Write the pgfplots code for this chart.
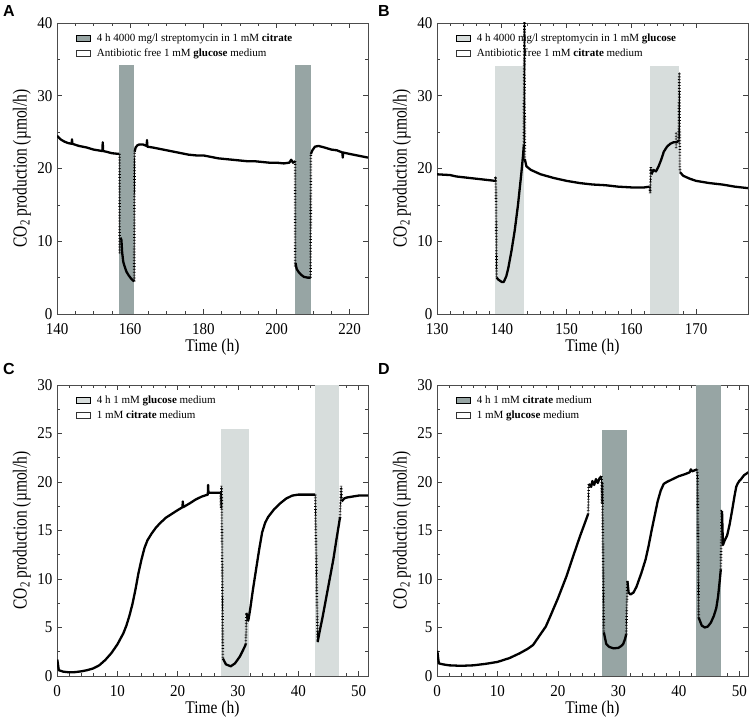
\documentclass[border=0pt]{standalone}
\usepackage{fontspec}
\setmainfont{Liberation Serif}
\setsansfont{Liberation Sans}
\usepackage{pgfplots}
\usepackage{pgfplotstable}
\pgfplotsset{compat=1.18}
\definecolor{darkbar}{HTML}{97A5A4}
\definecolor{lightbar}{HTML}{D7DDDC}

% panel A
\pgfplotstableread{
x y
140 24.5
141 24.0
142 23.7
143 23.5
144 23.4
144.1 24.0
144.2 23.4
146 23.1
148 22.9
150 22.6
152.4 22.4
152.5 23.6
152.6 22.4
153.5 22.3
155 22.1
157 22.0
nan nan
157.3 10.5
157.6 10.2
157.8 8.5
158.1 7.2
158.5 6.5
159 5.8
159.6 5.3
160.2 4.9
160.8 4.6
161.1 4.5
nan nan
161.2 22.3
161.5 22.9
162 23.2
162.5 23.3
163.5 23.3
164.5 23.1
164.6 23.9
164.7 23.0
166 22.9
168 22.7
170 22.5
172 22.3
174 22.1
176 21.9
178 21.8
180 21.8
182 21.6
184 21.4
186 21.3
188 21.2
190 21.1
192 21.0
194 21.0
196 20.9
198 20.8
200 20.8
202 20.7
203.5 20.8
204 21.2
204.5 20.8
205.1 21.0
nan nan
205.2 7.0
205.5 6.2
206 5.8
206.7 5.4
207.5 5.1
208.5 5.0
209.3 5.0
nan nan
209.4 22.0
209.8 22.5
210.5 23.0
211.5 23.1
213 22.9
215 22.6
216.5 22.5
218 22.2
218.1 21.5
218.2 22.2
220 22.0
222 21.8
224 21.6
225 21.5
}\Amain
\pgfplotstableread{
x y
157.1 22.0
157.1 8.3
nan nan
161.1 4.5
161.2 22.3
nan nan
205.1 21.0
205.1 6.5
nan nan
209.3 5.0
209.4 22.0
}\Ajump

% panel B
\pgfplotstableread{
x y
130 19.2
132 19.1
133 18.9
135 18.7
137 18.5
139 18.3
nan nan
139.2 5.0
139.5 4.7
140 4.4
140.3 4.4
140.7 5.2
141 6.3
141.5 8.7
142 11.5
142.5 15.0
143 19.2
143.3 22.0
143.4 23.3
nan nan
143.55 21.3
143.8 20.3
144.5 19.8
145 19.6
146 19.2
148 18.7
150 18.3
152 18.0
154 17.8
156 17.7
158 17.5
160 17.4
162 17.4
162.8 17.5
nan nan
163.1 19.2
163.4 19.8
163.8 19.6
164.2 20.3
164.6 21.2
165 22.3
165.5 23.0
166 23.4
166.5 23.6
167 23.6
167.3 23.8
nan nan
167.5 19.5
168 19.0
169 18.6
170 18.3
172 18.0
174 17.8
176 17.5
178 17.3
}\Bmain
\pgfplotstableread{
x y
139 18.3
139.05 18.9
139.1 17.3
139.2 5.0
nan nan
143.4 23.3
143.5 41
143.55 21.3
nan nan
162.8 17.5
162.9 16.6
163.0 20.2
163.1 19.2
nan nan
166.9 22.8
166.9 25.0
nan nan
167.3 23.8
167.4 33.2
167.5 19.5
}\Bjump

% panel C
\pgfplotstableread{
x y
0.05 1.7
0.3 0.6
1 0.45
2 0.38
3 0.4
4 0.48
5 0.6
6 0.78
7 1.1
8 1.65
9 2.35
10 3.25
11 4.4
11.5 5.2
12 6.2
12.5 7.4
13 8.9
13.5 10.6
14 12.0
14.5 13.2
15 14.0
15.7 14.7
16.4 15.3
17 15.7
18 16.3
19 16.7
20 17.1
20.8 17.4
20.85 18.0
20.9 17.4
22 17.8
23 18.2
24 18.5
25 18.7
25.05 19.7
25.1 18.9
26 18.9
27.1 18.9
nan nan
27.5 1.8
28 1.2
28.8 1.0
29.5 1.3
30.3 2.0
31.1 3.0
31.3 3.3
nan nan
31.4 6.5
31.7 5.7
32 6.8
32.5 9.0
33 11.0
33.5 13.0
34 14.8
34.5 15.8
35 16.4
36 17.2
37 17.8
38 18.3
39 18.6
40 18.7
41 18.7
42 18.7
42.8 18.7
nan nan
43.2 3.5
43.6 4.8
44 6.0
44.6 8.0
45.2 10.0
45.8 12.0
46.3 14.0
46.9 16.3
nan nan
47.2 18.0
47.6 18.3
48 18.4
49 18.5
50 18.6
51.6 18.6
}\Cmain
\pgfplotstableread{
x y
27.1 18.9
27.2 17.3
27.25 19.6
27.3 18.5
27.5 1.8
nan nan
31.3 3.3
31.4 6.5
nan nan
42.8 18.7
43.2 3.5
nan nan
46.9 16.3
47.1 19.6
47.2 18.0
}\Cjump

% panel D
\pgfplotstableread{
x y
0.05 2.6
0.3 1.3
1 1.2
2 1.1
4 1.05
6 1.1
8 1.25
10 1.45
12 1.85
13.7 2.35
15 2.8
15.9 3.2
17 4.2
18 5.1
18.7 6.1
20 8.0
21.4 10.25
22.5 12.3
23.65 14.4
24.3 15.5
25 16.7
nan nan
25.1 19.8
25.5 19.5
25.7 20.1
26 19.7
26.3 20.3
26.6 19.9
26.9 20.4
27.2 20.6
nan nan
27.6 4.5
28 3.3
28.5 3.0
29.2 2.85
30 2.9
30.5 3.1
30.8 3.3
31.1 3.8
31.3 4.3
nan nan
31.5 9.8
31.7 8.6
32 8.4
32.5 8.6
33 9.2
33.8 10.6
34.5 12.0
35 13.4
35.5 15.0
36 16.5
36.5 18.0
37 19.1
37.5 19.8
38 20.0
39 20.3
40 20.6
41 20.8
41.8 21.0
42 21.3
42.2 21.1
43 21.3
nan nan
43.3 6.0
43.8 5.2
44.3 5.0
44.8 5.1
45.3 5.5
45.8 6.2
46.2 7.0
46.5 8.2
46.8 10.0
46.95 11.0
nan nan
47.15 17.0
47.3 13.5
47.6 14.0
48 14.5
48.4 15.6
48.8 17.0
49.2 18.5
49.5 19.5
49.7 19.8
50 20.1
50.3 20.3
50.8 20.7
51.5 21.0
}\Dmain
\pgfplotstableread{
x y
25 16.7
25.1 19.8
nan nan
27.2 20.6
27.3 17.8
27.35 20.0
27.6 4.5
nan nan
31.3 4.3
31.5 9.8
nan nan
43 21.3
43.1 20.5
43.3 6.0
nan nan
46.95 11.0
47.1 17.0
47.15 17.0
}\Djump

\pgfplotsset{
  panel/.style={
    scale only axis, width=311pt, height=291pt,
    axis line style={black!70, line width=0.8pt},
    tick style={black!75, line width=0.6pt},
    major tick length=5pt, minor tick length=3pt,
    tick align=inside,
    minor y tick num=1,
    /pgf/number format/assume math mode=true,
    tick label style={font=\fontsize{15}{15}\selectfont, yscale=1.1},
    xticklabel style={yshift=-5pt},
    yticklabel style={xshift=-1pt},
    xlabel={Time (h)},
    ylabel={CO\textsubscript{2} production (µmol/h)},
    xlabel style={font=\fontsize{15.5}{17}\selectfont, yscale=1.15, yshift=3pt},
    ylabel style={font=\fontsize{15.5}{17}\selectfont, yscale=1.28, yshift=-1pt},
    unbounded coords=jump,
    legend cell align=left,
    legend style={draw=none, fill=none, at={(0.058,0.975)}, anchor=north west,
      font=\fontsize{11}{13}\selectfont, row sep=2pt, inner sep=1pt},
  },
  curve/.style={black, line width=2.3pt, line join=round},
  jumpthin/.style={black, line width=0.6pt},
  jumpdots/.style={black, line width=2.6pt, dash pattern=on 0.7pt off 2.2pt},
  swatch/.style={legend image code/.code={
    \draw[##1] (0pt,-3pt) rectangle (14pt,3pt);
    \path (18pt,0pt);}},
}

\begin{document}
\begin{tikzpicture}
\useasboundingbox (0,0) rectangle (751pt,723pt);

% A
\begin{axis}[panel, at={(57pt,409pt)}, anchor=south west,
  xmin=140, xmax=225, ymin=0, ymax=40,
  xtick={140,160,180,200,220}, ytick={0,10,20,30,40}, minor x tick num=3]
\addlegendimage{swatch, fill=darkbar, draw=none}
\addlegendentry{4 h 4000 mg/l streptomycin in 1 mM \textbf{citrate}}
\addlegendimage{swatch, fill=white, draw=black!80, line width=0.6pt}
\addlegendentry{Antibiotic free 1 mM \textbf{glucose} medium}
\addplot[fill=darkbar, draw=none, forget plot] coordinates {(157,34.2) (161,34.2)} \closedcycle;
\addplot[fill=darkbar, draw=none, forget plot] coordinates {(205.1,34.2) (209.4,34.2)} \closedcycle;
\addplot[jumpthin, forget plot] table {\Ajump};
\addplot[jumpdots, forget plot] table {\Ajump};
\addplot[curve, forget plot] table {\Amain};
\end{axis}

% B
\begin{axis}[panel, at={(437pt,409pt)}, anchor=south west,
  xmin=130, xmax=178, ymin=0, ymax=40,
  xtick={130,140,150,160,170}, ytick={0,10,20,30,40}, minor x tick num=4]
\addlegendimage{swatch, fill=lightbar, draw=none}
\addlegendentry{4 h 4000 mg/l streptomycin in 1 mM \textbf{glucose}}
\addlegendimage{swatch, fill=white, draw=black!80, line width=0.6pt}
\addlegendentry{Antibiotic free 1 mM \textbf{citrate} medium}
\addplot[fill=lightbar, draw=none, forget plot] coordinates {(138.9,34.1) (143.4,34.1)} \closedcycle;
\addplot[fill=lightbar, draw=none, forget plot] coordinates {(162.8,34.1) (167.3,34.1)} \closedcycle;
\addplot[jumpthin, forget plot] table {\Bjump};
\addplot[jumpdots, forget plot] table {\Bjump};
\addplot[curve, forget plot] table {\Bmain};
\end{axis}

% C
\begin{axis}[panel, at={(57pt,47pt)}, anchor=south west,
  xmin=0, xmax=51.55, ymin=0, ymax=30,
  xtick={0,10,20,30,40,50}, ytick={0,5,10,15,20,25,30}, minor x tick num=4]
\addlegendimage{swatch, fill=lightbar, draw=none}
\addlegendentry{4 h 1 mM \textbf{glucose} medium}
\addlegendimage{swatch, fill=white, draw=black!80, line width=0.6pt}
\addlegendentry{1 mM \textbf{citrate} medium}
\addplot[fill=lightbar, draw=none, forget plot] coordinates {(27.2,25.5) (31.8,25.5)} \closedcycle;
\addplot[fill=lightbar, draw=none, forget plot] coordinates {(42.7,30) (46.8,30)} \closedcycle;
\addplot[jumpthin, forget plot] table {\Cjump};
\addplot[jumpdots, forget plot] table {\Cjump};
\addplot[curve, forget plot] table {\Cmain};
\end{axis}

% D
\begin{axis}[panel, at={(437pt,47pt)}, anchor=south west,
  xmin=0, xmax=51.45, ymin=0, ymax=30,
  xtick={0,10,20,30,40,50}, ytick={0,5,10,15,20,25,30}, minor x tick num=4]
\addlegendimage{swatch, fill=darkbar, draw=none}
\addlegendentry{4 h 1 mM \textbf{citrate} medium}
\addlegendimage{swatch, fill=white, draw=black!80, line width=0.6pt}
\addlegendentry{1 mM \textbf{glucose} medium}
\addplot[fill=darkbar, draw=none, forget plot] coordinates {(27.35,25.4) (31.4,25.4)} \closedcycle;
\addplot[fill=darkbar, draw=none, forget plot] coordinates {(42.9,30) (46.9,30)} \closedcycle;
\addplot[jumpthin, forget plot] table {\Djump};
\addplot[jumpdots, forget plot] table {\Djump};
\addplot[curve, forget plot] table {\Dmain};
\end{axis}

\node[font=\sffamily\bfseries\fontsize{16}{16}\selectfont] at (9pt,712pt) {A};
\node[font=\sffamily\bfseries\fontsize{16}{16}\selectfont] at (384pt,712pt) {B};
\node[font=\sffamily\bfseries\fontsize{16}{16}\selectfont] at (9pt,354pt) {C};
\node[font=\sffamily\bfseries\fontsize{16}{16}\selectfont] at (384pt,354pt) {D};
\end{tikzpicture}
\end{document}
